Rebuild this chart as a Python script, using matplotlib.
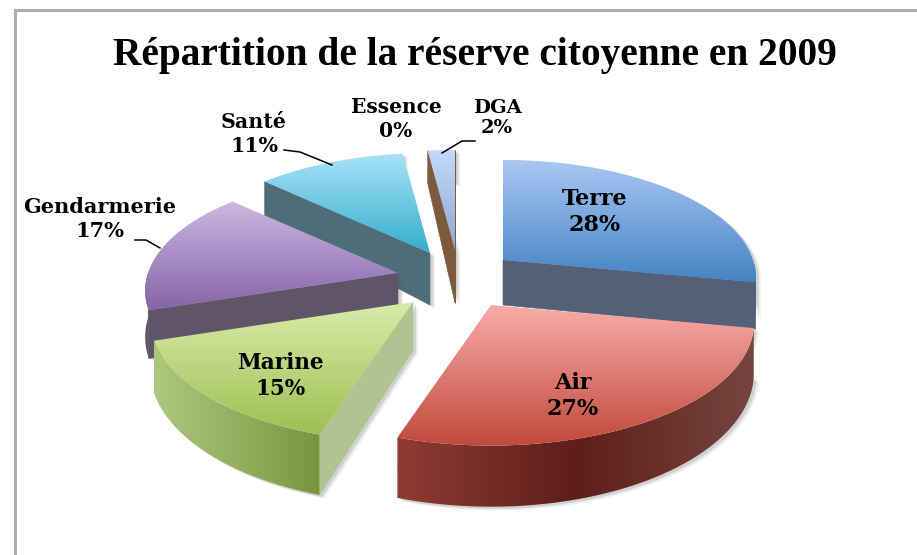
import numpy as np
import matplotlib
matplotlib.use("Agg")
import matplotlib.pyplot as plt
from matplotlib.colors import LinearSegmentedColormap as LSC
from matplotlib.patches import Polygon
from matplotlib.path import Path

# ---- data
title = "Répartition de la réserve citoyenne en 2009"
categories = ["Terre", "Air", "Marine", "Gendarmerie", "Santé", "Essence", "DGA"]
values = [28, 27, 15, 17, 11, 0, 2]

# ---- style
explode_x = [50, 38, -40, -55, -23, 0, 2]
explode_y = [-25, 20, 17, -12, -32, 0, -35]
radius_scale = [1, 1.04, 1.04, 1, 1, 1, 1]
depths = [45, 48, 48, 45, 52, 0, 53]
top_light = ["#abc8f3", "#f8aca8", "#d8eca9", "#ccb9e2", "#a8e3f8", "#ffffff", "#c2dafc"]
top_dark = ["#4383c4", "#c1483c", "#9ebf52", "#8564a8", "#35adca", "#ffffff", "#8da8cf"]
rim_stops = [["#5a6580", "#4a5570"], ["#8f3b33", "#5e1e1a", "#76453f"],
             ["#adc87e", "#7a9540"], ["#5f5568", "#5f5568"], ["#4f6d79", "#4f6d79"],
             ["#ffffff", "#ffffff"], ["#7d5a3e", "#7d5a3e"]]
face = ["#545f78", "#6a2a26", "#afc490", "#5f5567", "#4f6d79", "#ffffff", "#7d5a3e"]
label_xy = [(595, 212), (573, 396), (280, 376), (100, 219), (254, 134), (396, 119), (497, 118)]
label_size = [16, 16, 15.5, 15, 14.8, 14.5, 14]
leaders = {3: [(135, 240), (146, 240), (160, 248)],
           4: [(284, 150), (300, 152), (332, 165)],
           6: [(442, 153), (462, 141), (475, 141)]}
CX, CY, RX, RY, K = 453, 285, 250, 115, 0.149

fig = plt.figure(figsize=(9.17, 5.55), dpi=100)
ax = fig.add_axes([0, 0, 1, 1])


def outer(i, th):
    s = 1 / (1 + K * np.cos(th))
    r = radius_scale[i]
    x = CX + explode_x[i] + r * RX * np.sin(th) * s
    y = CY + explode_y[i] - r * RY * np.cos(th) * s
    return x, y, depths[i] * np.where(s > 1, s ** 1.5, s ** 3.5)


def fill_grad(poly, colors, horizontal=False, z=1):
    poly = np.asarray(poly)
    patch = Polygon(poly, closed=True, fc="none", ec="none", zorder=z)
    ax.add_patch(patch)
    cmap = LSC.from_list("g", colors)
    g = np.linspace(0, 1, 256)
    g = g[None, :] if horizontal else g[:, None]
    x0, x1, y0, y1 = poly[:, 0].min(), poly[:, 0].max(), poly[:, 1].min(), poly[:, 1].max()
    im = ax.imshow(g, cmap=cmap, extent=[x0, x1, y1, y0], aspect="auto", zorder=z, interpolation="bilinear")
    im.set_clip_path(patch)


fractions = np.cumsum([0] + values) / sum(values) * 2 * np.pi
order = [6, 4, 3, 0, 2, 1]
z = 2
for i in order:
    t0, t1 = fractions[i], fractions[i + 1]
    th = np.linspace(t0, t1, 90)
    x, y, d = outer(i, th)
    ax0 = CX + explode_x[i]
    ay0 = CY + explode_y[i]
    top = np.vstack([[ax0, ay0], np.c_[x, y]])
    D = depths[i]
    body = np.vstack([[ax0, ay0 + D], np.c_[x, y + d], np.c_[x[::-1], y[::-1]], [ax0, ay0]])
    for off, alpha in ((5, .10), (3, .18)):
        ax.add_patch(Polygon(body + [off, off * .7], closed=True, fc="#555555", ec="none", alpha=alpha, zorder=z))
    z += 1
    path = Path(top)
    for (ex, ey, ed) in ((x[0], y[0], d[0]), (x[-1], y[-1], d[-1])):
        mx, my = (ax0 + ex) / 2, (ay0 + ey) / 2
        if not path.contains_point((mx, my + 1.5)):
            ax.add_patch(Polygon([(ax0, ay0), (ex, ey), (ex, ey + ed), (ax0, ay0 + D)], closed=True,
                                 fc=face[i], ec=face[i], lw=.4, zorder=z))
    z += 1
    m = (th > np.pi / 2) & (th < 3 * np.pi / 2)
    if m.sum() > 1:
        rim = np.vstack([np.c_[x[m], y[m]], np.c_[x[m][::-1], (y + d)[m][::-1]]])
        fill_grad(rim, rim_stops[i], horizontal=True, z=z)
    z += 1
    fill_grad(top, [top_light[i], top_dark[i]], z=z)
    z += 1

for i, (lx, ly) in enumerate(label_xy):
    ax.text(lx, ly, f"{categories[i]}\n{values[i]}%", ha="center", va="center", family="DejaVu Serif",
            fontweight="bold", fontsize=label_size[i], linespacing=1.2, color="black", zorder=50)
for pts in leaders.values():
    p = np.array(pts)
    ax.plot(p[:, 0], p[:, 1], color="black", lw=1.1, zorder=49)

ax.text(475, 55, title, ha="center", va="center", family="Liberation Serif", fontweight="bold",
        fontsize=28.4, color="black", zorder=50)

ax.plot([14.5, 14.5, 917], [555, 9.5, 9.5], color="#adadad", lw=2.2, zorder=60, solid_joinstyle="miter")

ax.set_xlim(0, 917)
ax.set_ylim(555, 0)
ax.axis("off")
fig.savefig("out.png", dpi=100, facecolor="white")
